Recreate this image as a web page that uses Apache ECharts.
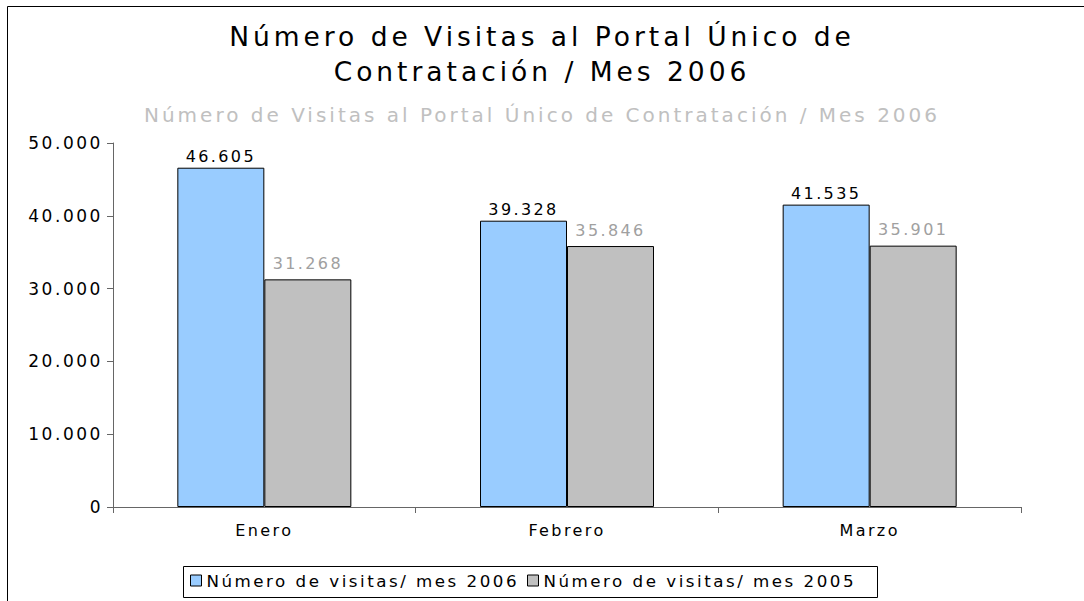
<!DOCTYPE html>
<html><head><meta charset="utf-8">
<script src="https://cdn.jsdelivr.net/npm/echarts@6/dist/echarts.min.js"></script>
<style>html,body{margin:0;padding:0;background:#fff}#c{width:1084px;height:601px}
#c svg text{letter-spacing:0.15em}</style>
</head><body><div id="c"></div>
<script>
const categories = ['Enero', 'Febrero', 'Marzo'];
const visitas2006 = [46605, 39328, 41535];
const visitas2005 = [31268, 35846, 35901];
const seriesNames = ['Número de visitas/ mes 2006', 'Número de visitas/ mes 2005'];
const titleText = 'Número de Visitas al Portal Único de\nContratación / Mes 2006';
const subtitleText = 'Número de Visitas al Portal Único de Contratación / Mes 2006';

const fmt = v => { const s = String(Math.round(v)); return s.replace(/\B(?=(\d{3})+(?!\d))/g, '.'); };
const F = 'DejaVu Sans, Verdana, sans-serif';
const legendBase = {
  top: 572, itemWidth: 11, itemHeight: 11, padding: 0, icon: 'rect',
  textStyle: {fontFamily: F, fontSize: 16.7, color: '#000'}
};
const chart = echarts.init(document.getElementById('c'), null, {renderer: 'svg'});
chart.setOption({
  animation: false,
  graphic: [
    {type: 'rect', shape: {x: 7.5, y: 6.5, width: 1200, height: 700}, style: {fill: 'none', stroke: '#000', lineWidth: 1}},
    {type: 'rect', shape: {x: 183.5, y: 566.5, width: 694, height: 31}, style: {fill: 'none', stroke: '#000', lineWidth: 1}}
  ],
  title: [
    {text: titleText, left: 'center', top: 14, textStyle: {fontFamily: F, fontSize: 26.5, fontWeight: 'normal', color: '#000', lineHeight: 35}},
    {text: subtitleText, left: 'center', top: 100, textStyle: {fontFamily: F, fontSize: 20, fontWeight: 'normal', color: '#c0c0c0'}}
  ],
  legend: [
    Object.assign({left: 190, data: [{name: seriesNames[0], itemStyle: {borderColor: '#000', borderWidth: 1}}]}, legendBase),
    Object.assign({left: 527, data: [{name: seriesNames[1], itemStyle: {borderColor: '#000', borderWidth: 1}}]}, legendBase)
  ],
  grid: {left: 113, right: 63, top: 143, bottom: 94},
  xAxis: {
    type: 'category', data: categories,
    axisLine: {lineStyle: {color: '#666', width: 1}},
    axisTick: {show: true, length: 6, lineStyle: {color: '#666'}},
    axisLabel: {fontFamily: F, fontSize: 16, color: '#000', margin: 15}
  },
  yAxis: {
    type: 'value', min: 0, max: 50000, interval: 10000,
    axisLine: {show: true, lineStyle: {color: '#666', width: 1}},
    axisTick: {show: true, length: 6, lineStyle: {color: '#666'}},
    splitLine: {show: false},
    axisLabel: {fontFamily: F, fontSize: 17, color: '#000', margin: 10, formatter: fmt}
  },
  series: [
    {name: seriesNames[0], type: 'bar', data: visitas2006, barWidth: 87, barGap: '0%',
     itemStyle: {color: '#99ccff', borderColor: '#000', borderWidth: 1},
     label: {show: true, position: 'top', distance: 3, fontFamily: F, fontSize: 16, color: '#000', formatter: p => fmt(p.value)}},
    {name: seriesNames[1], type: 'bar', data: visitas2005, barWidth: 87,
     itemStyle: {color: '#c0c0c0', borderColor: '#000', borderWidth: 1},
     label: {show: true, position: 'top', distance: 8, fontFamily: F, fontSize: 16, color: '#a0a0a0', formatter: p => fmt(p.value)}}
  ]
});
</script></body></html>
